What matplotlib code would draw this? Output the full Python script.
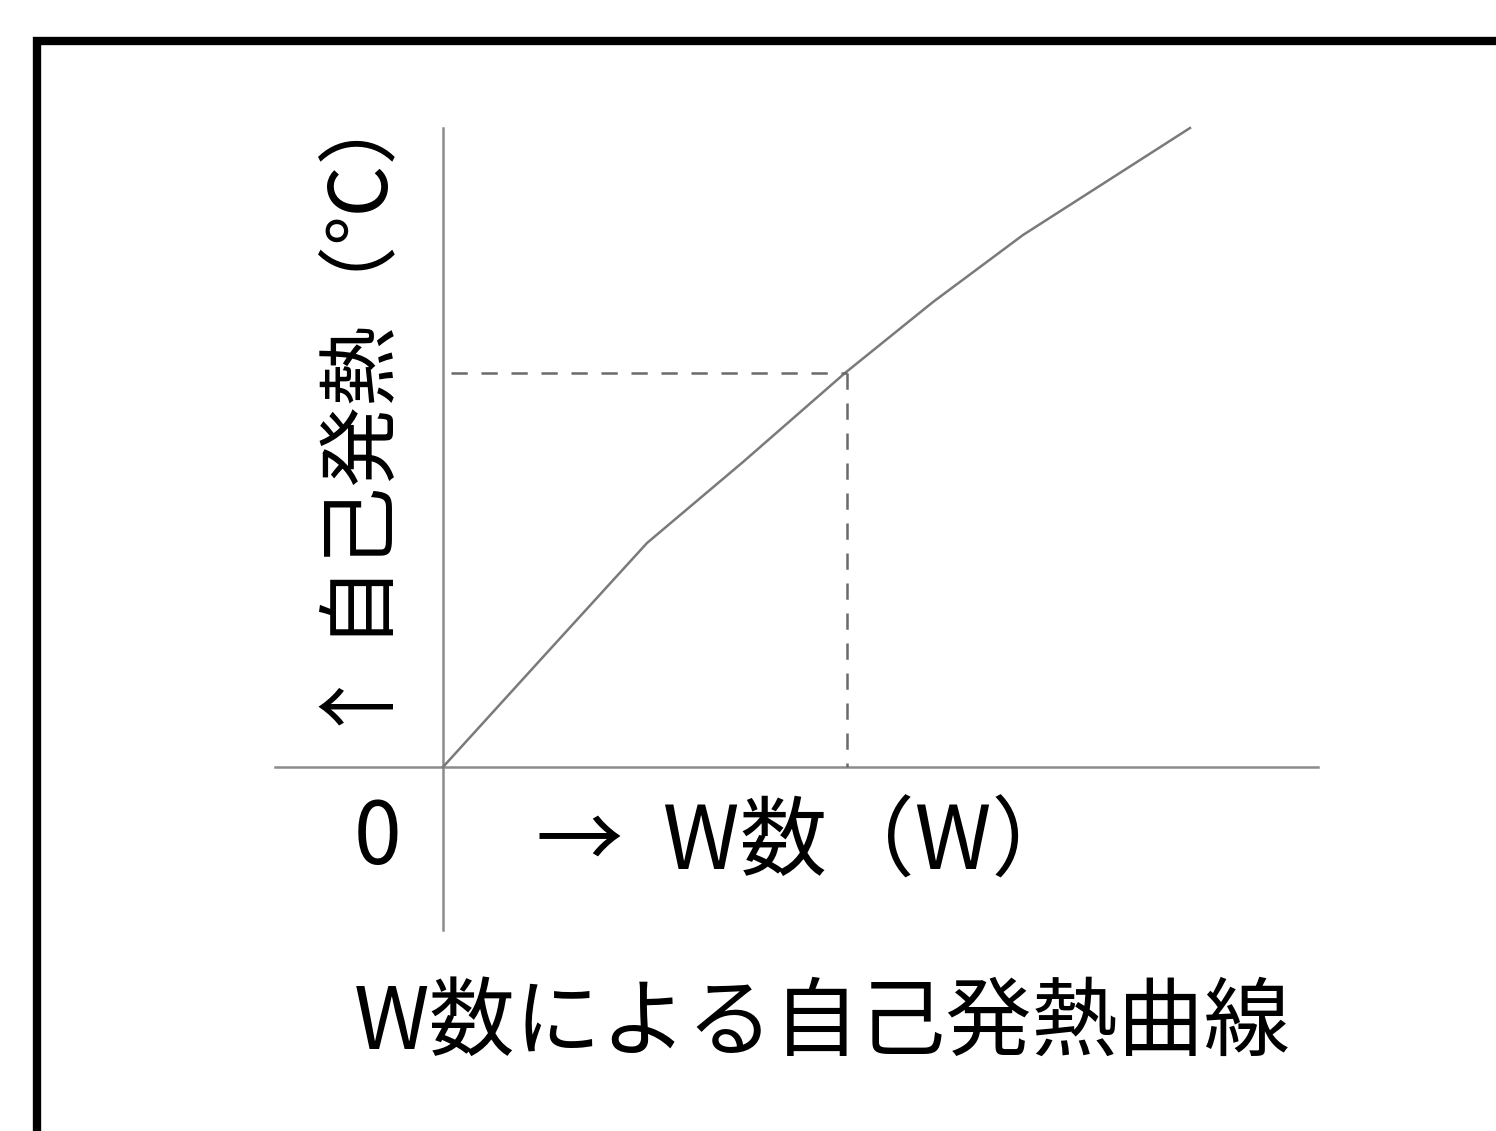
import numpy as np
import matplotlib.pyplot as plt
from matplotlib.patches import Rectangle

plt.rcParams['font.family'] = ['Noto Sans CJK JP', 'DejaVu Sans']

# self-heating curve (arbitrary units)
watts = [0.0, 1.0, 2.04, 3.0, 4.02, 4.9, 5.80, 7.47]
temp = [0.0, 1.1, 2.24, 3.05, 3.94, 4.65, 5.32, 6.39]

# the marked operating point
w_mark = 4.04
t_mark = 3.94

title = "W数による自己発熱曲線"
xlabel = "→  W数（W）"
ylabel = "↑ 自己発熱（℃）"

fig = plt.figure(figsize=(14.96, 11.31), dpi=100)
ax = fig.add_axes([0, 0, 1, 1])
ax.set_xlim(-4.43, 10.53)
ax.set_ylim(-3.64, 7.67)
ax.axis('off')

# outer frame, runs off the right and bottom edges
fig.patches.append(Rectangle((37/1496, -0.2), 1.2, 1.2 - 41/1131,
                             transform=fig.transFigure, fill=False,
                             edgecolor='black', linewidth=6))

# axes lines
ax.plot([-1.68, 8.75], [0, 0], color='#8c8c8c', lw=1.8)
ax.plot([0, 0], [-1.63, 6.39], color='#8c8c8c', lw=1.8)

# curve
ax.plot(watts, temp, color='#7a7a7a', lw=1.8)

# dashed guides
ax.plot([0.08, w_mark], [t_mark, t_mark], color='#6a6a6a', lw=1.8, dashes=(6.5, 5.5))
ax.plot([w_mark, w_mark], [t_mark, 0], color='#6a6a6a', lw=1.8, dashes=(6.5, 5.5))

ax.text(-0.65, -0.73, "0", fontsize=62, ha='center', va='center')
ax.text(3.64, -0.78, xlabel, fontsize=63, ha='center', va='center')
ax.text(-0.78, 3.52, ylabel, fontsize=58, ha='center', va='center', rotation=90)
ax.text(3.79, -2.58, title, fontsize=62, ha='center', va='center')

fig.savefig("out.png", dpi=100)
